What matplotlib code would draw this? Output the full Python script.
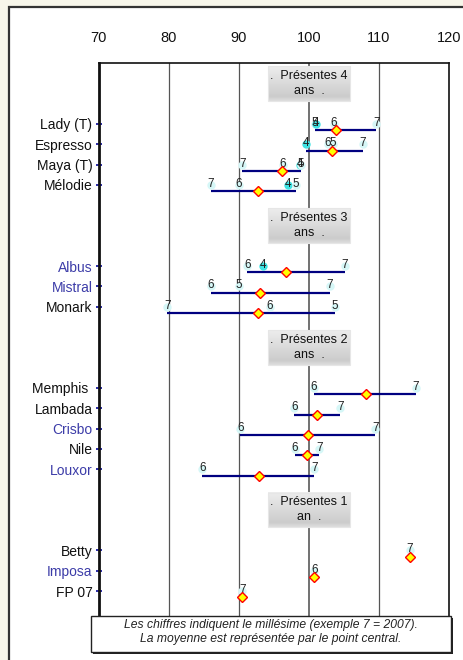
import numpy as np
import matplotlib
matplotlib.use("Agg")
import matplotlib.pyplot as plt
from matplotlib.patches import Rectangle

plt.rcParams['font.family'] = ['Liberation Sans', 'DejaVu Sans']

# ---------------- data ----------------
group_titles = [".  Présentes 4\nans  .", ".  Présentes 3\nans  .",
                ".  Présentes 2\nans  .", ".  Présentes 1\nan  ."]
group_members = [["Lady (T)", "Espresso", "Maya (T)", "Mélodie"],
                 ["Albus", "Mistral", "Monark"],
                 ["Memphis ", "Lambada", "Crisbo", "Nile", "Louxor"],
                 ["Betty", "Imposa", "FP 07"]]
blue_names = ["Albus", "Mistral", "Crisbo", "Louxor", "Imposa"]

years = {
    "Lady (T)": [5, 4, 6, 7], "Espresso": [4, 6, 5, 7], "Maya (T)": [7, 6, 4, 5],
    "Mélodie": [7, 6, 4, 5], "Albus": [6, 4, 7], "Mistral": [6, 5, 7],
    "Monark": [7, 6, 5], "Memphis ": [6, 7], "Lambada": [6, 7], "Crisbo": [6, 7],
    "Nile": [6, 7], "Louxor": [6, 7], "Betty": [7], "Imposa": [6], "FP 07": [7],
}
scores = {
    "Lady (T)": [100.9, 101.0, 103.6, 109.6], "Espresso": [99.6, 102.7, 103.4, 107.7],
    "Maya (T)": [90.5, 96.3, 98.8, 98.9], "Mélodie": [86.0, 90.0, 97.0, 98.1],
    "Albus": [91.2, 93.5, 105.1], "Mistral": [86.0, 90.0, 103.0],
    "Monark": [79.8, 94.4, 103.7], "Memphis ": [100.7, 115.3], "Lambada": [97.9, 104.5],
    "Crisbo": [90.2, 109.5], "Nile": [98.0, 101.5], "Louxor": [84.8, 100.8],
    "Betty": [114.4], "Imposa": [100.8], "FP 07": [90.5],
}
means = {
    "Lady (T)": 103.9, "Espresso": 103.3, "Maya (T)": 96.2, "Mélodie": 92.8,
    "Albus": 96.7, "Mistral": 93.0, "Monark": 92.7, "Memphis ": 108.1,
    "Lambada": 101.1, "Crisbo": 99.9, "Nile": 99.8, "Louxor": 92.85,
    "Betty": 114.4, "Imposa": 100.8, "FP 07": 90.5,
}
xticks = [70, 80, 90, 100, 110, 120]
footnote = ("Les chiffres indiquent le millésime (exemple 7 = 2007).\n"
            "La moyenne est représentée par le point central.")

# ---------------- figure ----------------
W, H = 463, 660
fig = plt.figure(figsize=(W / 100, H / 100), dpi=100)
fig.patch.set_facecolor('#f7f6ea')

def px(x0, y0, x1, y1):
    return [x0 / W, 1 - y1 / H, (x1 - x0) / W, (y1 - y0) / H]

# outer white frame
fr = px(9, 7, 475, 680)
fig.patches.append(Rectangle((fr[0], fr[1]), fr[2], fr[3], transform=fig.transFigure,
                             facecolor='white', edgecolor='#333333', lw=1.6, zorder=-5))

ax = fig.add_axes(px(98.7, 63, 449, 652))
ax.set_zorder(1)
ax.set_xlim(70, 120)
ax.set_ylim(26, -3)

# layout rows
row_pos, header_pos = {}, []
cursor = -2
for title, members in zip(group_titles, group_members):
    header_pos.append(cursor)
    r = cursor + 2
    for m in members:
        row_pos[m] = r
        r += 1
    cursor = r + 1

# gridlines
for xv in xticks[1:-1]:
    ax.axvline(xv, color='#555555' if xv != 100 else '#666666',
               lw=0.9 if xv != 100 else 1.3, zorder=1)

# header boxes with gradient
grad = np.concatenate([np.linspace(0.93, 0.80, 80), np.linspace(0.80, 0.87, 12)])
grad_img = np.stack([grad, grad, grad], axis=-1)[:, None, :].repeat(2, axis=1)
for title, hp in zip(group_titles, header_pos):
    y0, y1 = hp - 0.85, hp + 0.85
    ax.imshow(grad_img, extent=(94.1, 105.9, y1, y0), aspect='auto', zorder=2,
              interpolation='bilinear')
    ax.add_patch(Rectangle((94.1, y0), 11.8, y1 - y0, facecolor='none',
                           edgecolor='#e6e6e6', lw=0.8, zorder=2.1))
    ax.text(100, hp, title, ha='center', va='center', fontsize=9,
            color='#111111', linespacing=1.3, zorder=3)
ax.set_xlim(70, 120)
ax.set_ylim(26, -3)

off = 0.31
for name, r in row_pos.items():
    vals = scores[name]
    yrs = years[name]
    if len(vals) > 1:
        ax.plot([min(vals), max(vals)], [r + off, r + off], color='#000080',
                lw=1.6, zorder=4, solid_capstyle='butt')
    for v, yy in zip(vals, yrs):
        col = '#3fe3e3' if yy == 4 else '#d6f7f7'
        ax.plot([v], [r], 'o', ms=6, color=col, mec='none', zorder=4.5)
        ax.text(v, r - 0.05, str(yy), ha='center', va='center', fontsize=8.4,
                color='#222222', zorder=5)
    ax.plot([means[name]], [r + off], 'D', ms=5.5, mfc='#ffff00', mec='#ff0000',
            mew=1.0, zorder=6)

# axes styling
ax.set_xticks(xticks)
ax.xaxis.tick_top()
ax.tick_params(axis='x', length=0, pad=13, labelsize=10.5, labelcolor='#111111')
ax.set_yticks(list(row_pos.values()))
ax.set_yticklabels(list(row_pos.keys()))
ax.tick_params(axis='y', direction='inout', length=5, width=1.3, color='#1a1aa0',
               labelsize=10, pad=2)
for lab in ax.get_yticklabels():
    lab.set_color('#3c3ca8' if lab.get_text() in blue_names else '#111111')
ax.spines['left'].set_linewidth(2.0)
ax.spines['left'].set_color('#111111')
for s in ['top', 'right', 'bottom']:
    ax.spines[s].set_linewidth(1.2)
    ax.spines[s].set_color('#111111')

# footnote box with shadow
sh = px(93, 618, 453, 654)
fig.patches.append(Rectangle((sh[0], sh[1]), sh[2], sh[3], transform=fig.transFigure,
                             facecolor='#222222', edgecolor='none', zorder=5))
bx = px(90.7, 615.7, 451, 652)
fig.patches.append(Rectangle((bx[0], bx[1]), bx[2], bx[3], transform=fig.transFigure,
                             facecolor='white', edgecolor='#222222', lw=1.0, zorder=6))
fig.text((90.7 + 451) / 2 / W, 1 - 632 / H, footnote, ha='center', va='center',
         style='italic', fontsize=8.7, color='#222222', linespacing=1.25, zorder=7)

fig.savefig('out.png', dpi=100, facecolor=fig.get_facecolor())
